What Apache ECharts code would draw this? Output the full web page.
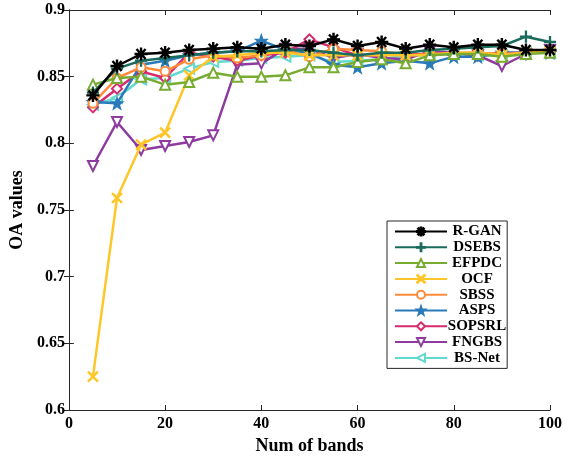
<!DOCTYPE html>
<html><head><meta charset="utf-8">
<script src="https://cdn.jsdelivr.net/npm/echarts@6/dist/echarts.min.js"></script>
<style>html,body{margin:0;padding:0;background:#fff;}#c{width:569px;height:460px;}</style>
</head><body><div id="c"></div>
<script>
var bands = [5,10,15,20,25,30,35,40,45,50,55,60,65,70,75,80,85,90,95,100];
var xTicks = [0,20,40,60,80,100];
var yTicks = [0.6,0.65,0.7,0.75,0.8,0.85,0.9];
var names = ['R-GAN','DSEBS','EFPDC','OCF','SBSS','ASPS','SOPSRL','FNGBS','BS-Net'];
var rgan   = [0.836,0.858,0.867,0.868,0.870,0.871,0.872,0.871,0.874,0.873,0.878,0.873,0.876,0.871,0.874,0.872,0.874,0.874,0.870,0.870];
var dsebs  = [0.838,0.856,0.862,0.864,0.866,0.868,0.869,0.869,0.870,0.870,0.868,0.866,0.868,0.868,0.870,0.871,0.872,0.873,0.880,0.876];
var efpdc  = [0.844,0.849,0.850,0.844,0.846,0.853,0.850,0.850,0.851,0.857,0.857,0.861,0.863,0.860,0.866,0.867,0.867,0.865,0.867,0.868];
var ocf    = [0.625,0.759,0.799,0.808,0.851,0.865,0.866,0.868,0.868,0.866,0.866,0.866,0.866,0.866,0.866,0.868,0.868,0.866,0.868,0.869];
var sbss   = [0.830,0.849,0.857,0.854,0.863,0.866,0.864,0.866,0.870,0.865,0.871,0.870,0.869,0.866,0.867,0.868,0.868,0.867,0.868,0.869];
var asps   = [0.831,0.830,0.859,0.862,0.866,0.868,0.869,0.877,0.870,0.868,0.859,0.857,0.860,0.862,0.860,0.865,0.865,0.868,0.868,0.868];
var sopsrl = [0.827,0.841,0.854,0.849,0.868,0.865,0.862,0.866,0.868,0.878,0.872,0.866,0.866,0.868,0.866,0.868,0.866,0.868,0.868,0.869];
var fngbs  = [0.783,0.816,0.795,0.798,0.801,0.806,0.859,0.860,0.871,0.871,0.864,0.867,0.864,0.863,0.869,0.868,0.866,0.858,0.867,0.870];
var bsnet  = [0.829,0.834,0.848,0.849,0.856,0.861,0.862,0.864,0.865,0.866,0.861,0.862,0.863,0.866,0.866,0.867,0.866,0.866,0.868,0.869];
var values = [rgan,dsebs,efpdc,ocf,sbss,asps,sopsrl,fngbs,bsnet];
var colors = ['#000000','#1b6b5c','#77ac30','#ffc629','#ff8b3a','#2a7ab9','#d62a6f','#8e3a9e','#62d9cf'];

var ASTER = 'path://M-1,-10L1,-10L1,-2.4L6.1,-8.1L7.6,-6.8L2.4,-1L10,-1L10,1L2.4,1L7.6,6.8L6.1,8.1L1,2.4L1,10L-1,10L-1,2.4L-6.1,8.1L-7.6,6.8L-2.4,1L-10,1L-10,-1L-2.4,-1L-7.6,-6.8L-6.1,-8.1L-1,-2.4Z';
var PLUS = 'path://M-1,-10L1,-10L1,-1L10,-1L10,1L1,1L1,10L-1,10L-1,1L-10,1L-10,-1L-1,-1Z';
var XM = 'path://M-8.5,-7L-7,-8.5L0,-1.5L7,-8.5L8.5,-7L1.5,0L8.5,7L7,8.5L0,1.5L-7,8.5L-8.5,7L-1.5,0Z';
var STAR = 'path://M0,-10L2.35,-3.24L9.51,-3.09L3.8,1.24L5.88,8.09L0,4L-5.88,8.09L-3.8,1.24L-9.51,-3.09L-2.35,-3.24Z';
var symbols = [ASTER, PLUS, 'emptyTriangle', XM, 'emptyCircle', STAR, 'emptyDiamond', 'emptyTriangle', 'emptyTriangle'];
var rotates = [0,0,0,0,0,0,0,180,90];
var sizes = [12,11,10,10,9,12,10,10,10];

var series = names.map(function(n,i){
  return {
    name: n, type: 'line',
    data: bands.map(function(b,j){ return [b, values[i][j]]; }),
    symbol: symbols[i], symbolSize: sizes[i], symbolRotate: rotates[i],
    showAllSymbol: true,
    z: 20 - i,
    lineStyle: {color: colors[i], width: 2.5},
    itemStyle: {color: colors[i], borderColor: colors[i], borderWidth: (symbols[i].indexOf('empty')===0 ? 2.5 : 1.2)},
    emphasis: {disabled: true},
    animation: false
  };
});

var font = '"Liberation Serif","Times New Roman",serif';
var axisLine = {show: true, lineStyle: {color: '#262626', width: 1}};
var chart = echarts.init(document.getElementById('c'), null, {renderer: 'canvas'});
chart.setOption({
  animation: false,
  backgroundColor: '#fff',
  grid: {left: 66, right: 19, top: 10, bottom: 50, containLabel: false},
  legend: {
    orient: 'vertical', left: 387, top: 221,
    padding: [3, 1, 3, 7],
    itemGap: 0.8, itemWidth: 52, itemHeight: 10,
    borderColor: '#262626', borderWidth: 1, backgroundColor: '#fff',
    data: names,
    formatter: function(n){ return '{c|' + n + '}'; },
    textStyle: {fontFamily: font, fontWeight: 'bold', fontSize: 15, color: '#000', lineHeight: 14,
      rich: {c: {fontFamily: font, fontWeight: 'bold', fontSize: 15, color: '#000', lineHeight: 14, width: 50, align: 'center'}}}
  },
  xAxis: [{
    type: 'value', min: 0, max: 100, interval: 20,
    axisLine: axisLine,
    axisTick: {inside: true, length: 5, lineStyle: {color: '#262626'}},
    axisLabel: {fontFamily: font, fontWeight: 'bold', fontSize: 16, color: '#000', margin: 6},
    splitLine: {show: false},
    name: 'Num of bands', nameLocation: 'middle', nameGap: 20,
    nameTextStyle: {fontFamily: font, fontWeight: 'bold', fontSize: 18, color: '#000'}
  },{
    type: 'value', min: 0, max: 100, interval: 20, position: 'top',
    axisLine: axisLine,
    axisTick: {inside: true, length: 5, lineStyle: {color: '#262626'}},
    axisLabel: {show: false}, splitLine: {show: false}
  }],
  yAxis: [{
    type: 'value', min: 0.6, max: 0.9, interval: 0.05,
    axisLine: axisLine,
    axisTick: {inside: true, length: 5, lineStyle: {color: '#262626'}},
    axisLabel: {fontFamily: font, fontWeight: 'bold', fontSize: 16, color: '#000', margin: 4,
      formatter: function(v){ return String(Math.round(v*100)/100); }},
    splitLine: {show: false},
    name: 'OA values', nameLocation: 'middle', nameGap: 37, nameRotate: 90,
    nameTextStyle: {fontFamily: font, fontWeight: 'bold', fontSize: 18, color: '#000'}
  },{
    type: 'value', min: 0.6, max: 0.9, interval: 0.05, position: 'right',
    axisLine: axisLine,
    axisTick: {inside: true, length: 5, lineStyle: {color: '#262626'}},
    axisLabel: {show: false}, splitLine: {show: false}
  }],
  series: series
});
</script></body></html>
